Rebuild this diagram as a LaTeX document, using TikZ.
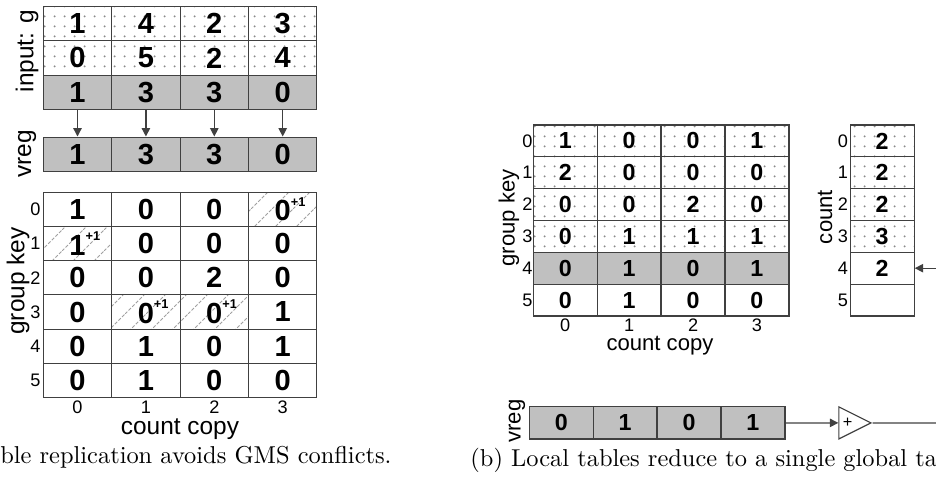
\documentclass[tikz,border=0pt]{standalone}
\usepackage{fontspec}
\newfontfamily\arial{Liberation Sans}
\usepackage{xcolor}
\usetikzlibrary{arrows.meta,patterns.meta,shapes.geometric}

\definecolor{rulegray}{HTML}{404040}
\definecolor{cellgray}{HTML}{C0C0C0}
\definecolor{dotgray}{HTML}{8C8C8C}
\definecolor{hatchgray}{HTML}{A0A0A0}

\tikzdeclarepattern{name=speckle, type=uncolored,
  bounding box={(0pt,0pt) and (4.3pt,4.3pt)}, tile size={(4.3pt,4.3pt)},
  code={\fill (2.15pt,2.15pt) circle (0.5pt);}}
\tikzdeclarepattern{name=hatch, type=uncolored,
  bounding box={(0pt,0pt) and (9pt,9pt)}, tile size={(9pt,9pt)},
  code={\draw[line width=0.45pt, dash pattern=on 1.4pt off 0.8pt] (0pt,0pt) -- (9pt,9pt);}}

\newcommand{\incr}{\rlap{\raisebox{0.5em}{\fontsize{5.5}{5.5}\selectfont +1}}}

\begin{document}
\begin{tikzpicture}[x=0.43pt,y=0.43pt,yscale=-1,xscale=1,
  bigcell/.style={draw=rulegray, line width=0.5pt, minimum width=29.4pt, minimum height=14.7pt, inner sep=0pt, font=\arial\bfseries\fontsize{12.5}{12.5}\selectfont},
  smallcell/.style={draw=rulegray, line width=0.5pt, minimum width=27.5pt, minimum height=13.7pt, inner sep=0pt, font=\arial\bfseries\fontsize{10}{10}\selectfont},
  speckled/.style={pattern=speckle, pattern color=dotgray},
  greycell/.style={fill=cellgray},
  hatchcell/.style={pattern=hatch, pattern color=hatchgray},
  idx/.style={font=\arial\fontsize{7.8}{7.8}\selectfont, inner sep=0pt},
  axis/.style={font=\arial\fontsize{10.5}{10.5}\selectfont, inner sep=0pt},
  axissm/.style={font=\arial\fontsize{9.5}{9.5}\selectfont, inner sep=0pt},
  flow/.style={draw=rulegray, line width=0.55pt, -{Triangle[length=3.6pt,width=3.6pt]}},
  caption/.style={font=\fontsize{10.5}{12}\selectfont, inner sep=0pt}]
\useasboundingbox (0,0) rectangle (936,481);
\clip (0,0) rectangle (936,481);

%Input rows
\node[bigcell,speckled] (in-0-0) at (77.5,23.8) {1};
\node[bigcell,speckled] (in-0-1) at (145.9,23.8) {4};
\node[bigcell,speckled] (in-0-2) at (214.3,23.8) {2};
\node[bigcell,speckled] (in-0-3) at (282.7,23.8) {3};
\node[bigcell,speckled] (in-1-0) at (77.5,58) {0};
\node[bigcell,speckled] (in-1-1) at (145.9,58) {5};
\node[bigcell,speckled] (in-1-2) at (214.3,58) {2};
\node[bigcell,speckled] (in-1-3) at (282.7,58) {4};
\node[bigcell,greycell] (in-2-0) at (77.5,92.2) {1};
\node[bigcell,greycell] (in-2-1) at (145.9,92.2) {3};
\node[bigcell,greycell] (in-2-2) at (214.3,92.2) {3};
\node[bigcell,greycell] (in-2-3) at (282.7,92.2) {0};

%Vector register
\node[bigcell,greycell] (vr-0) at (77.5,154.2) {1};
\node[bigcell,greycell] (vr-1) at (145.9,154.2) {3};
\node[bigcell,greycell] (vr-2) at (214.3,154.2) {3};
\node[bigcell,greycell] (vr-3) at (282.7,154.2) {0};

%Loads into the register
\draw[flow] (in-2-0) -- (vr-0);
\draw[flow] (in-2-1) -- (vr-1);
\draw[flow] (in-2-2) -- (vr-2);
\draw[flow] (in-2-3) -- (vr-3);

%Replicated count table
\node[bigcell] (tab-0-0) at (77.5,209.4) {1};
\node[bigcell] (tab-0-1) at (145.9,209.4) {0};
\node[bigcell] (tab-0-2) at (214.3,209.4) {0};
\node[bigcell,hatchcell] (tab-0-3) at (282.7,209.4) {0\incr};
\node[bigcell,hatchcell] (tab-1-0) at (77.5,243.6) {1\incr};
\node[bigcell] (tab-1-1) at (145.9,243.6) {0};
\node[bigcell] (tab-1-2) at (214.3,243.6) {0};
\node[bigcell] (tab-1-3) at (282.7,243.6) {0};
\node[bigcell] (tab-2-0) at (77.5,277.8) {0};
\node[bigcell] (tab-2-1) at (145.9,277.8) {0};
\node[bigcell] (tab-2-2) at (214.3,277.8) {2};
\node[bigcell] (tab-2-3) at (282.7,277.8) {0};
\node[bigcell] (tab-3-0) at (77.5,312) {0};
\node[bigcell,hatchcell] (tab-3-1) at (145.9,312) {0\incr};
\node[bigcell,hatchcell] (tab-3-2) at (214.3,312) {0\incr};
\node[bigcell] (tab-3-3) at (282.7,312) {1};
\node[bigcell] (tab-4-0) at (77.5,346.2) {0};
\node[bigcell] (tab-4-1) at (145.9,346.2) {1};
\node[bigcell] (tab-4-2) at (214.3,346.2) {0};
\node[bigcell] (tab-4-3) at (282.7,346.2) {1};
\node[bigcell] (tab-5-0) at (77.5,380.4) {0};
\node[bigcell] (tab-5-1) at (145.9,380.4) {1};
\node[bigcell] (tab-5-2) at (214.3,380.4) {0};
\node[bigcell] (tab-5-3) at (282.7,380.4) {0};

% Text Node
\node[axis,rotate=90] (lbl-in) at (27,51) {input: g};
\node[axis,rotate=90] (lbl-vr) at (27,154) {vreg};
\node[axis,rotate=90] (lbl-key) at (18,281) {group key};
\node[idx] (row-0) at (35.5,209.4) {0};
\node[idx] (row-1) at (35.5,243.6) {1};
\node[idx] (row-2) at (35.5,277.8) {2};
\node[idx] (row-3) at (35.5,312) {3};
\node[idx] (row-4) at (35.5,346.2) {4};
\node[idx] (row-5) at (35.5,380.4) {5};
\node[idx] (col-0) at (77.5,407.5) {0};
\node[idx] (col-1) at (145.9,407.5) {1};
\node[idx] (col-2) at (214.3,407.5) {2};
\node[idx] (col-3) at (282.7,407.5) {3};
\node[axis] (lbl-copy) at (180,429) {count copy};
\node[caption,anchor=base east] (cap-a) at (392,464) {(a) Table replication avoids GMS conflicts.};

%Local tables
\node[smallcell,speckled] (loc-0-0) at (565.25,140.9) {1};
\node[smallcell,speckled] (loc-0-1) at (629.15,140.9) {0};
\node[smallcell,speckled] (loc-0-2) at (693.05,140.9) {0};
\node[smallcell,speckled] (loc-0-3) at (756.95,140.9) {1};
\node[smallcell,speckled] (loc-1-0) at (565.25,172.7) {2};
\node[smallcell,speckled] (loc-1-1) at (629.15,172.7) {0};
\node[smallcell,speckled] (loc-1-2) at (693.05,172.7) {0};
\node[smallcell,speckled] (loc-1-3) at (756.95,172.7) {0};
\node[smallcell,speckled] (loc-2-0) at (565.25,204.6) {0};
\node[smallcell,speckled] (loc-2-1) at (629.15,204.6) {0};
\node[smallcell,speckled] (loc-2-2) at (693.05,204.6) {2};
\node[smallcell,speckled] (loc-2-3) at (756.95,204.6) {0};
\node[smallcell,speckled] (loc-3-0) at (565.25,236.4) {0};
\node[smallcell,speckled] (loc-3-1) at (629.15,236.4) {1};
\node[smallcell,speckled] (loc-3-2) at (693.05,236.4) {1};
\node[smallcell,speckled] (loc-3-3) at (756.95,236.4) {1};
\node[smallcell,greycell] (loc-4-0) at (565.25,268.2) {0};
\node[smallcell,greycell] (loc-4-1) at (629.15,268.2) {1};
\node[smallcell,greycell] (loc-4-2) at (693.05,268.2) {0};
\node[smallcell,greycell] (loc-4-3) at (756.95,268.2) {1};
\node[smallcell] (loc-5-0) at (565.25,300.1) {0};
\node[smallcell] (loc-5-1) at (629.15,300.1) {1};
\node[smallcell] (loc-5-2) at (693.05,300.1) {0};
\node[smallcell] (loc-5-3) at (756.95,300.1) {0};

%Global count column
\node[smallcell,speckled] (cnt-0) at (882.2,140.9) {2};
\node[smallcell,speckled] (cnt-1) at (882.2,172.7) {2};
\node[smallcell,speckled] (cnt-2) at (882.2,204.6) {2};
\node[smallcell,speckled] (cnt-3) at (882.2,236.4) {3};
\node[smallcell] (cnt-4) at (882.2,268.2) {2};
\node[smallcell] (cnt-5) at (882.2,300.1) {};

%Reduced register and adder
\node[smallcell,greycell,minimum height=13.9pt] (vb-0) at (561.25,422.9) {0};
\node[smallcell,greycell,minimum height=13.9pt] (vb-1) at (625.15,422.9) {1};
\node[smallcell,greycell,minimum height=13.9pt] (vb-2) at (689.05,422.9) {0};
\node[smallcell,greycell,minimum height=13.9pt] (vb-3) at (752.95,422.9) {1};
\node[isosceles triangle, isosceles triangle stretches, draw=rulegray, line width=0.5pt, minimum width=13.8pt, minimum height=13.8pt, inner sep=0pt, anchor=west, font=\arial\fontsize{7}{7}\selectfont] (sum) at (838.3,422.9) {+};
\coordinate (sum-out) at (950,422.9);
\coordinate (cnt-in) at (950,268.2);
\draw[flow] (vb-3) -- (sum);
\draw[draw=rulegray, line width=0.55pt] (sum) -- (sum-out);
\draw[flow] (cnt-in) -- (cnt-4);

% Text Node
\node[axissm,rotate=90] (lbl-key2) at (509,218) {group key};
\node[idx] (lrow-0) at (527.3,140.9) {0};
\node[idx] (lrow-1) at (527.3,172.7) {1};
\node[idx] (lrow-2) at (527.3,204.6) {2};
\node[idx] (lrow-3) at (527.3,236.4) {3};
\node[idx] (lrow-4) at (527.3,268.2) {4};
\node[idx] (lrow-5) at (527.3,300.1) {5};
\node[idx] (lcol-0) at (565.25,325.5) {0};
\node[idx] (lcol-1) at (629.15,325.5) {1};
\node[idx] (lcol-2) at (693.05,325.5) {2};
\node[idx] (lcol-3) at (756.95,325.5) {3};
\node[axissm] (lbl-copy2) at (660,346) {count copy};
\node[axissm,rotate=90] (lbl-cnt) at (825,217) {count};
\node[idx] (crow-0) at (843,140.9) {0};
\node[idx] (crow-1) at (843,172.7) {1};
\node[idx] (crow-2) at (843,204.6) {2};
\node[idx] (crow-3) at (843,236.4) {3};
\node[idx] (crow-4) at (843,268.2) {4};
\node[idx] (crow-5) at (843,300.1) {5};
\node[axissm,rotate=90] (lbl-vb) at (517,421) {vreg};
\node[caption,anchor=base west] (cap-b) at (470,467) {(b) Local tables reduce to a single global table.};

\end{tikzpicture}
\end{document}
